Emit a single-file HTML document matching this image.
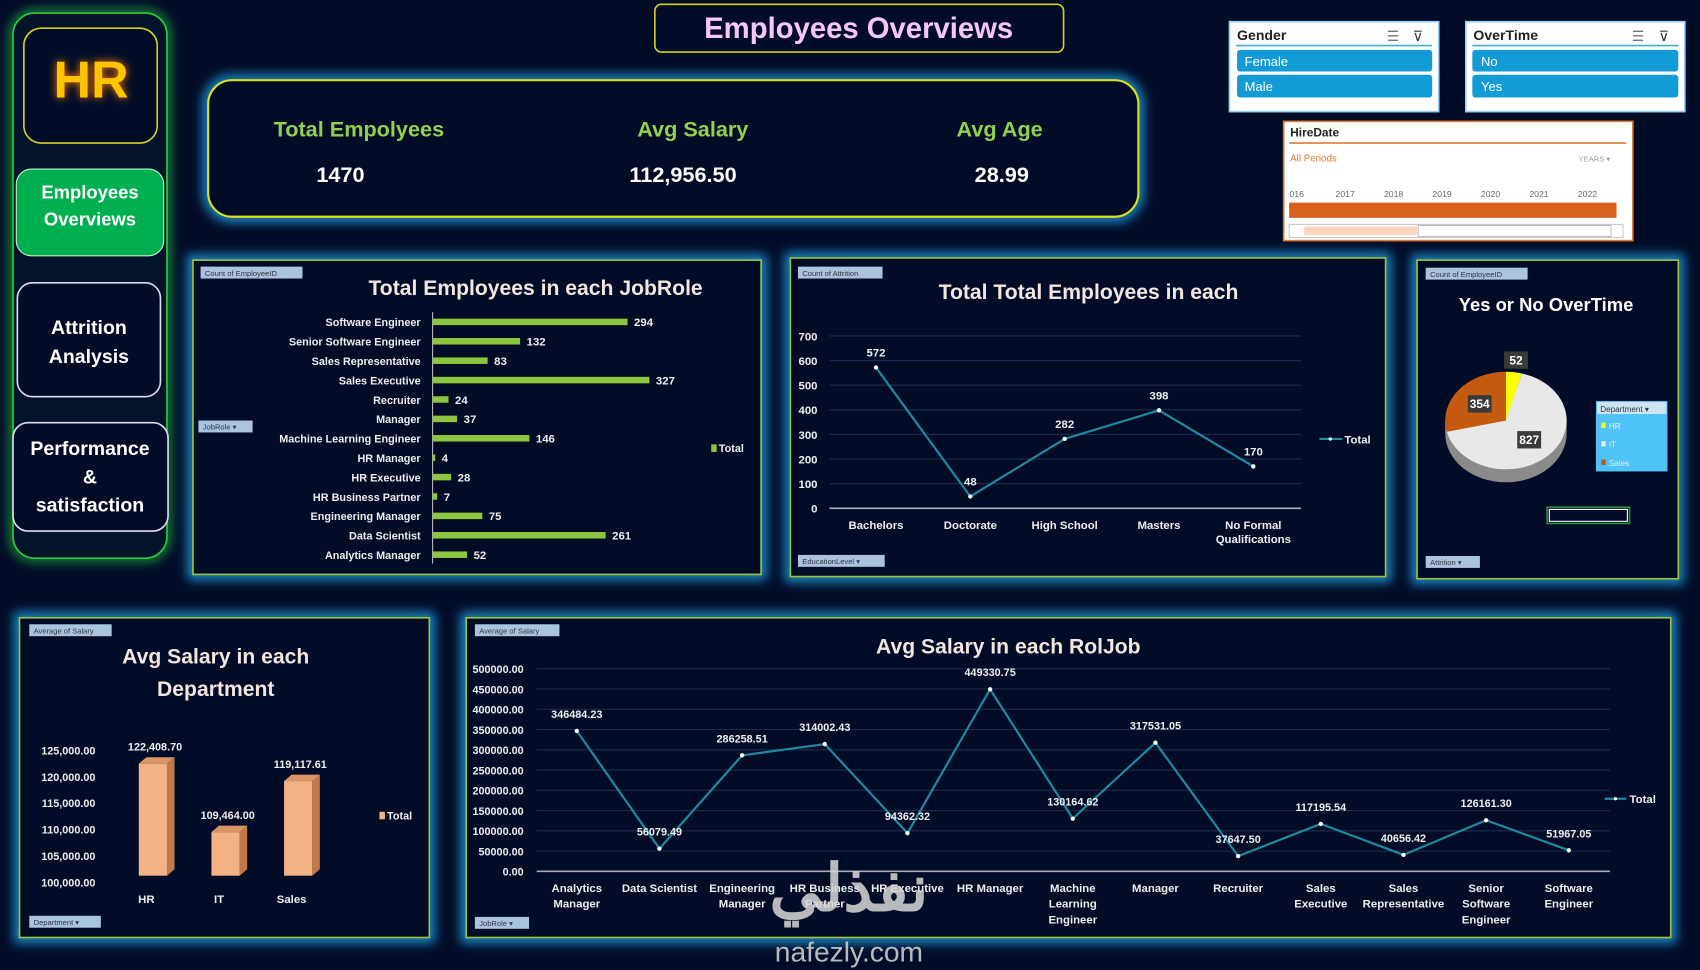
<!DOCTYPE html>
<html><head><meta charset="utf-8"><style>
html,body{margin:0;padding:0;background:#020c27;width:1700px;height:970px;overflow:hidden}
svg{display:block}
text{font-family:"Liberation Sans Narrow","Liberation Sans",sans-serif}
</style></head><body>
<svg id="s" width="1700" height="970" viewBox="0 0 1568 895" preserveAspectRatio="none">
<defs>
<filter id="glow" x="-10%" y="-10%" width="120%" height="120%"><feGaussianBlur stdDeviation="5"/></filter>
<filter id="hrglow" x="-30%" y="-30%" width="160%" height="160%"><feGaussianBlur stdDeviation="4"/></filter>
</defs>
<rect x="0" y="0" width="1568" height="895" fill="#020c27"/>
<g>
<rect x="12" y="12" width="142" height="503" rx="20" fill="none" stroke="#1fae3a" stroke-width="6" filter="url(#glow)"/>
<rect x="12" y="12" width="142" height="503" rx="20" fill="#03132a" stroke="#2ecc40" stroke-width="1.5"/>
<rect x="22" y="26" width="123" height="106" rx="16" fill="#020c27" stroke="#d8d020" stroke-width="1.5"/>
<text x="84" y="90" text-anchor="middle" font-size="48" font-weight="bold" fill="#ff7a00" filter="url(#hrglow)">HR</text>
<text x="84" y="90" text-anchor="middle" font-size="48" font-weight="bold" fill="#ffc400">HR</text>
<g>
<rect x="15" y="156" width="136" height="80" rx="14" fill="#00b050" stroke="#c8f0c8" stroke-width="1"/>
<text x="83" y="183" text-anchor="middle" font-size="17" font-weight="bold" fill="#fff">Employees</text>
<text x="83" y="208" text-anchor="middle" font-size="17" font-weight="bold" fill="#fff">Overviews</text></g>
<g>
<rect x="16" y="261" width="132" height="105" rx="14" fill="#020c27" stroke="#dde" stroke-width="1.5"/>
<text x="82" y="308" text-anchor="middle" font-size="18" font-weight="bold" fill="#fff">Attrition</text>
<text x="82" y="335" text-anchor="middle" font-size="18" font-weight="bold" fill="#fff">Analysis</text></g>
<g>
<rect x="12" y="390" width="143" height="100" rx="14" fill="#020c27" stroke="#dde" stroke-width="1.5"/>
<text x="83" y="420" text-anchor="middle" font-size="18" font-weight="bold" fill="#fff">Performance</text>
<text x="83" y="446" text-anchor="middle" font-size="18" font-weight="bold" fill="#fff">&amp;</text>
<text x="83" y="472" text-anchor="middle" font-size="18" font-weight="bold" fill="#fff">satisfaction</text></g>
</g>
<g>
<rect x="604" y="4" width="377" height="44" rx="6" fill="#020c27" stroke="#d8d020" stroke-width="1.5"/>
<text x="792" y="35" text-anchor="middle" font-size="27" font-weight="bold" fill="#f6c6f6">Employees Overviews</text></g>
<g>
<rect x="192" y="74" width="858" height="126" rx="22" fill="none" stroke="#1a8fd0" stroke-width="10" filter="url(#glow)"/>
<rect x="192" y="74" width="858" height="126" rx="22" fill="#020c27" stroke="#d8e020" stroke-width="2"/>
<text x="331" y="126" text-anchor="middle" font-size="20" font-weight="bold" fill="#92d050">Total Empolyees</text>
<text x="314" y="168" text-anchor="middle" font-size="20" font-weight="bold" fill="#fff">1470</text>
<text x="639" y="126" text-anchor="middle" font-size="20" font-weight="bold" fill="#92d050">Avg Salary</text>
<text x="630" y="168" text-anchor="middle" font-size="20" font-weight="bold" fill="#fff">112,956.50</text>
<text x="922" y="126" text-anchor="middle" font-size="20" font-weight="bold" fill="#92d050">Avg Age</text>
<text x="924" y="168" text-anchor="middle" font-size="20" font-weight="bold" fill="#fff">28.99</text>
</g>
<g>
<rect x="1134" y="20" width="193" height="83" fill="#fff" stroke="#9cf" stroke-width="1.5"/>
<text x="1141" y="37" font-size="13" font-weight="bold" fill="#222">Gender</text>
<text x="1279" y="38" font-size="13" fill="#777">☰</text><text x="1303" y="38" font-size="13" fill="#333">⊽</text>
<line x1="1140" y1="42" x2="1321" y2="42" stroke="#4aa8d8" stroke-width="1.5"/>
<g><rect x="1141" y="46" width="180" height="20" rx="3" fill="#139bd6"/><text x="1148" y="61" font-size="12" fill="#fff">Female</text></g>
<g><rect x="1141" y="69" width="180" height="21" rx="3" fill="#139bd6"/><text x="1148" y="84" font-size="12" fill="#fff">Male</text></g>
</g>
<g>
<rect x="1352" y="20" width="202" height="83" fill="#fff" stroke="#9cf" stroke-width="1.5"/>
<text x="1359" y="37" font-size="13" font-weight="bold" fill="#222">OverTime</text>
<text x="1505" y="38" font-size="13" fill="#777">☰</text><text x="1530" y="38" font-size="13" fill="#333">⊽</text>
<line x1="1358" y1="42" x2="1548" y2="42" stroke="#4aa8d8" stroke-width="1.5"/>
<g><rect x="1358" y="46" width="190" height="20" rx="3" fill="#139bd6"/><text x="1366" y="61" font-size="12" fill="#fff">No</text></g>
<g><rect x="1358" y="69" width="190" height="21" rx="3" fill="#139bd6"/><text x="1366" y="84" font-size="12" fill="#fff">Yes</text></g>
</g>
<g>
<rect x="1184" y="112" width="322" height="110" fill="#fff" stroke="#e07b39" stroke-width="1.5"/>
<text x="1190" y="126" font-size="11" font-weight="bold" fill="#222">HireDate</text>
<line x1="1189" y1="132" x2="1500" y2="132" stroke="#e07b39" stroke-width="1.5"/>
<text x="1190" y="149" font-size="9" fill="#e07b39">All Periods</text>
<text x="1456" y="149" font-size="7" fill="#999">YEARS ▾</text>
<g id="years"></g>
<rect x="1189" y="187" width="302" height="14" fill="#d9601e"/>
<rect x="1189" y="207" width="308" height="12" fill="#fff" stroke="#bbb" stroke-width="0.8"/>
<rect x="1203" y="209" width="104" height="8" fill="#fbd5c0"/>
<rect x="1308" y="208" width="178" height="10" fill="#fff" stroke="#999" stroke-width="0.6"/>
</g>
<g id="panels"></g>
<g id="charts"></g>
<g opacity="0.85">
<text x="783" y="840" text-anchor="middle" font-size="60" font-weight="bold" fill="#d8d8d8" font-family="'DejaVu Sans',sans-serif">نفذلي</text>
<text x="783" y="887" text-anchor="middle" font-size="26" fill="#d8d8d8">nafezly.com</text>
</g>
</svg>
<script>
const NS='http://www.w3.org/2000/svg';
function mk(p,tag,a,txt){const e=document.createElementNS(NS,tag);for(const k in a)e.setAttribute(k,a[k]);if(txt!==undefined)e.textContent=txt;p.appendChild(e);return e;}
const S=document.getElementById('charts');
const P=document.getElementById('panels');

const yearLabels=['016','2017','2018','2019','2020','2021','2022'];
const jobRoles=['Software Engineer','Senior Software Engineer','Sales Representative','Sales Executive','Recruiter','Manager','Machine Learning Engineer','HR Manager','HR Executive','HR Business Partner','Engineering Manager','Data Scientist','Analytics Manager'];
const jobCounts=[294,132,83,327,24,37,146,4,28,7,75,261,52];
const eduLevels=['Bachelors','Doctorate','High School','Masters','No Formal|Qualifications'];
const eduCounts=[572,48,282,398,170];
const eduTicks=[0,100,200,300,400,500,600,700];
const ptDepts=['HR','IT','Sales'];
const pieValues=[52,827,354];
const deptNames=['HR','IT','Sales'];
const deptSalary=[122408.70,109464.00,119117.61];
const deptTicks=[100000,105000,110000,115000,120000,125000];
const salRoles=['Analytics|Manager','Data Scientist','Engineering|Manager','HR Business|Partner','HR Executive','HR Manager','Machine|Learning|Engineer','Manager','Recruiter','Sales|Executive','Sales|Representative','Senior|Software|Engineer','Software|Engineer'];
const salValues=[346484.23,56079.49,286258.51,314002.43,94362.32,449330.75,130164.62,317531.05,37647.50,117195.54,40656.42,126161.30,51967.05];
const salTicks=[0,50000,100000,150000,200000,250000,300000,350000,400000,450000,500000];

const yg=document.getElementById('years');
yearLabels.forEach((y,i)=>{const t=mk(yg,'text',{x:1196+i*44.7,y:182,'font-size':8,fill:'#666','text-anchor':'middle'},y);


if(i>0){mk(yg,'line',{x1:1180+i*44.7,y1:187,x2:1180+i*44.7,y2:201,stroke:'#fff','stroke-width':0.8});}});

function panel(x,y,w,h,name){
  mk(P,'rect',{x:x,y:y,width:w,height:h,fill:'none',stroke:'#1a8fd0','stroke-width':10,filter:'url(#glow)'});
  const r=mk(P,'rect',{x:x,y:y,width:w,height:h,fill:'#020c27',stroke:'#9bc53d','stroke-width':1.5});
  
  
}
function tag(x,y,w,txt,name,inter){
  const g=mk(S,'g',{});
  
  
  mk(g,'rect',{x:x,y:y,width:w,height:11,fill:'#a9c4dc'});
  mk(g,'text',{x:x+4,y:y+8.5,'font-size':7,fill:'#334'},txt);
}
panel(178,240,524,290,'jobrole-chart-panel');
panel(729,238,549,294,'education-chart-panel');
panel(1307,240,241,294,'overtime-pie-panel');
panel(18,570,378,295,'dept-salary-panel');
panel(430,570,1111,295,'role-salary-panel');

tag(185,246,94,'Count of EmployeeID','jobrole-value-field',false);
tag(183,388,50,'JobRole ▾','jobrole-filter-button',true);
mk(S,'text',{x:494,y:272,'text-anchor':'middle','font-size':19.5,'font-weight':'bold',fill:'#f3e6e0'},'Total Employees in each JobRole');
const bx=v=>399+v*(200/327), by=i=>297+i*17.9;
mk(S,'line',{x1:399,y1:288,x2:399,y2:520,stroke:'#bbb','stroke-width':1});
jobRoles.forEach((r,i)=>{
  const b=mk(S,'rect',{x:399,y:by(i)-3,width:bx(jobCounts[i])-399,height:6,fill:'#8cc63f'});
  
  
  mk(S,'text',{x:388,y:by(i)+4,'text-anchor':'end','font-size':10,'font-weight':'bold',fill:'#eee'},r);
  mk(S,'text',{x:bx(jobCounts[i])+6,y:by(i)+4,'font-size':10.5,'font-weight':'bold',fill:'#eee'},jobCounts[i]);
});
mk(S,'rect',{x:656,y:410,width:5,height:7,fill:'#8cc63f'});
mk(S,'text',{x:663,y:417,'font-size':10,'font-weight':'bold',fill:'#eee'},'Total');

tag(736,246,78,'Count of Attrition','education-value-field',false);
tag(736,512,80,'EducationLevel ▾','education-filter-button',true);
mk(S,'text',{x:1004,y:276,'text-anchor':'middle','font-size':19.5,'font-weight':'bold',fill:'#f3e6e0'},'Total Total Employees in each');
const ex=i=>808+i*87, ey=v=>469-v*(159/700);
eduTicks.forEach(t=>{
  mk(S,'line',{x1:765,y1:ey(t),x2:1200,y2:ey(t),stroke:t?'#1c2c50':'#aab','stroke-width':t?1:1.5});
  mk(S,'text',{x:754,y:ey(t)+4,'text-anchor':'end','font-size':10.5,'font-weight':'bold',fill:'#eee'},t);
});
const el=mk(S,'polyline',{points:eduCounts.map((v,i)=>ex(i)+','+ey(v)).join(' '),fill:'none',stroke:'#1f8ba0','stroke-width':2});


eduCounts.forEach((v,i)=>{
  mk(S,'circle',{cx:ex(i),cy:ey(v),r:2,fill:'#fff'});
  mk(S,'text',{x:ex(i),y:ey(v)-10,'text-anchor':'middle','font-size':10.5,'font-weight':'bold',fill:'#eee'},v);
  eduLevels[i].split('|').forEach((l,k)=>mk(S,'text',{x:ex(i),y:488+k*13,'text-anchor':'middle','font-size':10.5,'font-weight':'bold',fill:'#eee'},l));
});
mk(S,'line',{x1:1217,y1:405,x2:1238,y2:405,stroke:'#1f8ba0','stroke-width':2});
mk(S,'circle',{cx:1227,cy:405,r:1.5,fill:'#fff'});
mk(S,'text',{x:1240,y:409,'font-size':10.5,'font-weight':'bold',fill:'#eee'},'Total');

tag(1315,247,94,'Count of EmployeeID','pie-value-field',false);
tag(1315,513,50,'Attrition ▾','attrition-filter-button',true);
mk(S,'text',{x:1426,y:287,'text-anchor':'middle','font-size':17,'font-weight':'bold',fill:'#fff'},'Yes or No OverTime');
const pcx=1389,pcy=388,prx=56,pry=45,dep=12;
const pieColors=['#ffff00','#e8e8e8','#c55a11'];
mk(S,'ellipse',{cx:pcx,cy:pcy+dep,rx:prx,ry:pry,fill:'#8a8a8a'});
mk(S,'rect',{x:pcx-prx,y:pcy,width:prx*2,height:dep,fill:'#8a8a8a'});
const tot=pieValues.reduce((a,b)=>a+b,0);
let ang=-Math.PI/2;
pieValues.forEach((v,i)=>{
  const a2=ang+v/tot*2*Math.PI;
  const x1=pcx+prx*Math.cos(ang),y1=pcy+pry*Math.sin(ang),x2=pcx+prx*Math.cos(a2),y2=pcy+pry*Math.sin(a2);
  const big=(a2-ang)>Math.PI?1:0;
  const s=mk(S,'path',{d:`M${pcx},${pcy} L${x1},${y1} A${prx},${pry} 0 ${big} 1 ${x2},${y2} Z`,fill:pieColors[i]});
  
  
  const m=(ang+a2)/2, rr=(v/tot<0.1)?1.25:0.55;
  const lx=pcx+prx*rr*Math.cos(m), ly=pcy+pry*rr*Math.sin(m);
  mk(S,'rect',{x:lx-11,y:ly-8,width:22,height:16,fill:'#3a3a3a'});
  mk(S,'text',{x:lx,y:ly+4,'text-anchor':'middle','font-size':11,'font-weight':'bold',fill:'#fff'},v);
  ang=a2;
});
const lg=mk(S,'g',{});


mk(lg,'rect',{x:1472,y:370,width:66,height:65,fill:'#4fc3f7'});
mk(lg,'rect',{x:1473,y:371,width:64,height:11,fill:'#cfe3f1'});
mk(lg,'text',{x:1476,y:380,'font-size':7.5,fill:'#334'},'Department ▾');
ptDepts.forEach((d,i)=>{mk(lg,'rect',{x:1477,y:390+i*17,width:4,height:5,fill:pieColors[i]});mk(lg,'text',{x:1484,y:396+i*17,'font-size':7.5,fill:'#eef'},d);});
mk(S,'rect',{x:1427,y:468,width:76,height:15,fill:'none',stroke:'#2e8b3e','stroke-width':1.5});
mk(S,'rect',{x:1429,y:470,width:72,height:11,fill:'none',stroke:'#fff','stroke-width':1});

tag(27,576,76,'Average of Salary','dept-value-field',false);
tag(27,845,66,'Department ▾','department-filter-button',true);
mk(S,'text',{x:199,y:612,'text-anchor':'middle','font-size':19.5,'font-weight':'bold',fill:'#f3e6e0'},'Avg Salary in each');
mk(S,'text',{x:199,y:642,'text-anchor':'middle','font-size':19.5,'font-weight':'bold',fill:'#f3e6e0'},'Department');
const dy=v=>814-(v-100000)*(122/25000), dx=i=>141+i*67;
deptTicks.forEach(t=>mk(S,'text',{x:88,y:dy(t)+4,'text-anchor':'end','font-size':10,'font-weight':'bold',fill:'#eee'},t.toLocaleString('en-US',{minimumFractionDigits:2})));
deptSalary.forEach((v,i)=>{
  const x=dx(i)-13,top=dy(v),bot=808;
  const g=mk(S,'g',{});
  
  
  mk(g,'polygon',{points:`${x+26},${top} ${x+33},${top-6} ${x+33},${bot-6} ${x+26},${bot}`,fill:'#c07a4a'});
  mk(g,'polygon',{points:`${x},${top} ${x+7},${top-6} ${x+33},${top-6} ${x+26},${top}`,fill:'#d99565'});
  mk(g,'rect',{x:x,y:top,width:26,height:bot-top,fill:'#f4b183'});
  mk(S,'text',{x:dx(i)+2,y:top-12,'text-anchor':'middle','font-size':10,'font-weight':'bold',fill:'#eee'},v.toLocaleString('en-US',{minimumFractionDigits:2}));
  mk(S,'text',{x:dx(i)-6,y:833,'text-anchor':'middle','font-size':10.5,'font-weight':'bold',fill:'#eee'},deptNames[i]);
});
mk(S,'rect',{x:350,y:749,width:5,height:7,fill:'#f4b183'});
mk(S,'text',{x:357,y:756,'font-size':10,'font-weight':'bold',fill:'#eee'},'Total');

tag(438,576,78,'Average of Salary','role-salary-value-field',false);
tag(438,846,50,'JobRole ▾','role-salary-filter-button',true);
mk(S,'text',{x:930,y:603,'text-anchor':'middle','font-size':19.5,'font-weight':'bold',fill:'#f3e6e0'},'Avg Salary in each  RolJob');
const sx=i=>532+i*76.25, sy=v=>804-v*(187/500000);
salTicks.forEach(t=>{
  mk(S,'line',{x1:495,y1:sy(t),x2:1485,y2:sy(t),stroke:t?'#1c2c50':'#aab','stroke-width':t?1:1.5});
  mk(S,'text',{x:483,y:sy(t)+4,'text-anchor':'end','font-size':10,'font-weight':'bold',fill:'#eee'},t.toFixed(2));
});
const sl=mk(S,'polyline',{points:salValues.map((v,i)=>sx(i)+','+sy(v)).join(' '),fill:'none',stroke:'#1f8ba0','stroke-width':2});


salValues.forEach((v,i)=>{
  mk(S,'circle',{cx:sx(i),cy:sy(v),r:2,fill:'#fff'});
  mk(S,'text',{x:sx(i),y:sy(v)-12,'text-anchor':'middle','font-size':10,'font-weight':'bold',fill:'#eee'},v.toFixed(2));
  salRoles[i].split('|').forEach((l,k)=>mk(S,'text',{x:sx(i),y:823+k*14.5,'text-anchor':'middle','font-size':10.5,'font-weight':'bold',fill:'#eee'},l));
});
mk(S,'line',{x1:1480,y1:737,x2:1500,y2:737,stroke:'#1f8ba0','stroke-width':2});
mk(S,'circle',{cx:1490,cy:737,r:1.5,fill:'#fff'});
mk(S,'text',{x:1503,y:741,'font-size':10.5,'font-weight':'bold',fill:'#eee'},'Total');
</script>
</body></html>
